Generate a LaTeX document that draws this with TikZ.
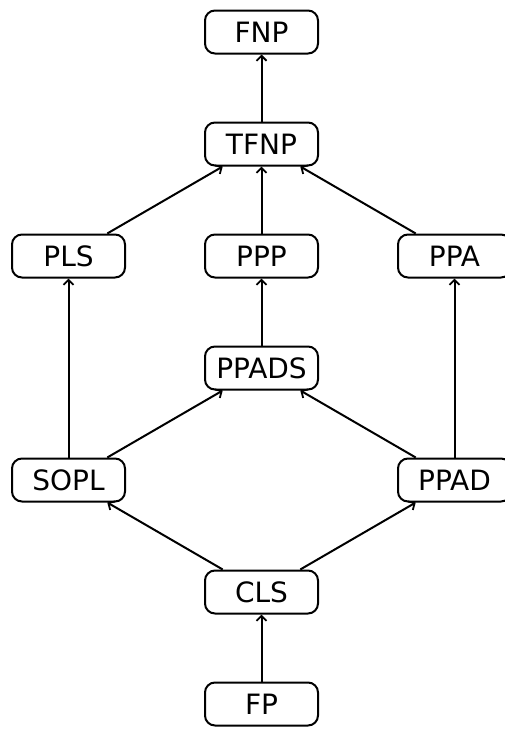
\documentclass[tikz,border=0pt]{standalone}
\usepackage{fontspec}
\setmainfont{DejaVu Sans}
\usetikzlibrary{arrows.meta}
\begin{document}
\begin{tikzpicture}[x=1pt,y=-1pt,
  cls/.style={draw, line width=2pt, rounded corners=10pt, minimum width=113pt, minimum height=43pt, inner sep=0pt, font=\fontsize{28}{32}\selectfont},
  arr/.style={-{Straight Barb[length=5pt,width=10pt,line width=1.8pt]}, line width=2pt}]
\useasboundingbox (0,0) rectangle (504,734);
\node[cls] (fnp)   at (261.5,32)  {FNP};
\node[cls] (tfnp)  at (261.5,144) {TFNP};
\node[cls] (pls)   at (68.5,256)  {PLS};
\node[cls] (ppp)   at (261.5,256) {PPP};
\node[cls] (ppa)   at (454.5,256) {PPA};
\node[cls] (ppads) at (261.5,368) {PPADS};
\node[cls] (sopl)  at (68.5,480)  {SOPL};
\node[cls] (ppad)  at (454.5,480) {PPAD};
\node[cls] (clsn)  at (261.5,592) {CLS};
\node[cls] (fp)    at (261.5,704) {FP};
\draw[arr] (tfnp) -- (fnp);
\draw[arr] (pls) -- (tfnp);
\draw[arr] (ppp) -- (tfnp);
\draw[arr] (ppa) -- (tfnp);
\draw[arr] (sopl) -- (pls);
\draw[arr] (ppads) -- (ppp);
\draw[arr] (ppad) -- (ppa);
\draw[arr] (sopl) -- (ppads);
\draw[arr] (ppad) -- (ppads);
\draw[arr] (clsn) -- (sopl);
\draw[arr] (clsn) -- (ppad);
\draw[arr] (fp) -- (clsn);
\end{tikzpicture}
\end{document}
